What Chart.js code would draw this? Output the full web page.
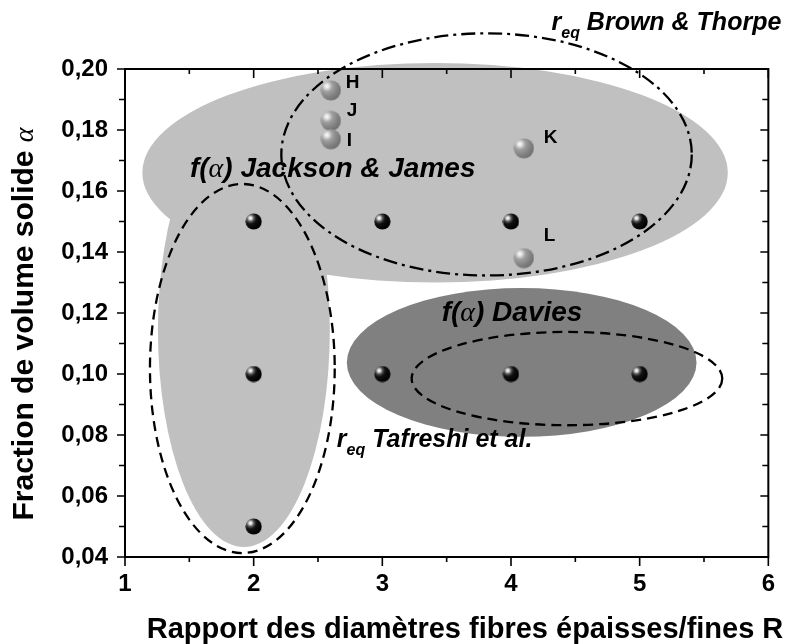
<!DOCTYPE html>
<html>
<head>
<meta charset="utf-8">
<script src="https://cdn.jsdelivr.net/npm/chart.js@4.4.1/dist/chart.umd.min.js"></script>
<style>
html, body { margin: 0; padding: 0; background: #fff; }
canvas { display: block; }
</style>
</head>
<body>
<canvas id="chart" width="788" height="644"></canvas>
<script>
// simulated cases (black balls)
var simR = [2, 3, 4, 5, 2, 3, 4, 5, 2];
var simAlpha = [0.15, 0.15, 0.15, 0.15, 0.10, 0.10, 0.10, 0.10, 0.05];

// experimental media (grey balls)
var expNames = ['H', 'J', 'I', 'K', 'L'];
var expR = [2.6, 2.6, 2.6, 4.1, 4.1];
var expAlpha = [0.193, 0.183, 0.177, 0.174, 0.138];

// validity zones, filled: Jackson & James, Jackson & James (low part), Davies
var zoneR = [3.41, 1.924, 4.083];
var zoneAlpha = [0.166, 0.1144, 0.1038];
var zoneHalfR = [2.275, 0.668, 1.359];
var zoneHalfAlpha = [0.036, 0.0711, 0.0244];

// validity zones, outlined: Brown & Thorpe, Tafreshi (two parts)
var ringR = [3.81, 1.912, 4.435];
var ringAlpha = [0.172, 0.1018, 0.0985];
var ringHalfR = [1.595, 0.718, 1.207];
var ringHalfAlpha = [0.0397, 0.0605, 0.0153];

var xTicks = [1, 2, 3, 4, 5, 6];
var yTicks = [0.04, 0.06, 0.08, 0.10, 0.12, 0.14, 0.16, 0.18, 0.20];

// styles
var zoneColours = ['#c0c0c0', '#c0c0c0', '#808080'];
var ringDash = [[14, 5, 3, 5], [10, 6], [10, 6]];
var expLabelOffset = [[15, -2], [16, -5], [16, 7], [20, -5], [20, -17]];

var SANS = '"Liberation Sans", Arial, sans-serif';
var SERIF = '"Liberation Serif", "Times New Roman", serif';
var bi = 'italic bold 28px ' + SANS;
var alphaFont = 'italic 28px ' + SERIF;
var bi2 = 'italic bold 25px ' + SANS;
var sub = 'italic bold 16px ' + SANS;

var notes = [
    {x: 1.505, y: 0.1646, runs: [['f(', bi], ['α', alphaFont], [') Jackson & James', bi]]},
    {x: 3.461, y: 0.1174, runs: [['f(', bi], ['α', alphaFont], [') Davies', bi]]},
    {x: 2.646, y: 0.0761, runs: [['r', bi2], ['eq', sub, 8], [' Tafreshi et al.', bi2]]},
    {x: 4.315, y: 0.2128, runs: [['r', bi2], ['eq', sub, 8], [' Brown & Thorpe', bi2]]}
];

function ball(size, stops) {
    var c = document.createElement('canvas');
    c.width = size; c.height = size;
    var g = c.getContext('2d');
    var r = size / 2;
    var hx = r * 0.62, hy = r * 0.6;
    var grad = g.createRadialGradient(hx, hy, 0, hx, hy, r * 1.4);
    stops.forEach(function (s) { grad.addColorStop(s[0], s[1]); });
    g.fillStyle = grad;
    g.beginPath();
    g.arc(r, r, r - 0.4, 0, Math.PI * 2);
    g.fill();
    return c;
}

var blackBall = ball(17, [[0, '#ffffff'], [0.12, '#dcdcdc'], [0.3, '#555'], [0.5, '#111'], [1, '#000']]);
var greyBall = ball(21, [[0, '#ffffff'], [0.14, '#e4e4e4'], [0.38, '#a0a0a0'], [0.7, '#858585'], [1, '#727272']]);

function drawRuns(ctx, x, y, runs) {
    var cx = x;
    runs.forEach(function (r) {
        ctx.font = r[1];
        ctx.fillText(r[0], cx, y + (r[2] || 0));
        cx += ctx.measureText(r[0]).width;
    });
    return cx - x;
}

var zones = {
    id: 'zones',
    beforeDatasetsDraw: function (chart) {
        var ctx = chart.ctx, xs = chart.scales.x, ys = chart.scales.y;
        ctx.save();
        zoneR.forEach(function (cr, i) {
            var px = xs.getPixelForValue(cr), py = ys.getPixelForValue(zoneAlpha[i]);
            var rx = xs.getPixelForValue(cr + zoneHalfR[i]) - px;
            var ry = py - ys.getPixelForValue(zoneAlpha[i] + zoneHalfAlpha[i]);
            ctx.fillStyle = zoneColours[i];
            ctx.beginPath();
            ctx.ellipse(px, py, rx, ry, 0, 0, Math.PI * 2);
            ctx.fill();
        });
        ctx.strokeStyle = '#000';
        ctx.lineWidth = 2.3;
        ringR.forEach(function (cr, i) {
            var px = xs.getPixelForValue(cr), py = ys.getPixelForValue(ringAlpha[i]);
            var rx = xs.getPixelForValue(cr + ringHalfR[i]) - px;
            var ry = py - ys.getPixelForValue(ringAlpha[i] + ringHalfAlpha[i]);
            ctx.setLineDash(ringDash[i]);
            ctx.beginPath();
            ctx.ellipse(px, py, rx, ry, 0, 0, Math.PI * 2);
            ctx.stroke();
        });
        ctx.restore();
    },
    afterDatasetsDraw: function (chart) {
        var ctx = chart.ctx, xs = chart.scales.x, ys = chart.scales.y;
        ctx.save();
        ctx.fillStyle = '#000';
        ctx.textAlign = 'left';
        ctx.textBaseline = 'alphabetic';
        ctx.font = 'bold 19px ' + SANS;
        expNames.forEach(function (n, i) {
            var px = xs.getPixelForValue(expR[i]), py = ys.getPixelForValue(expAlpha[i]);
            ctx.fillText(n, px + expLabelOffset[i][0], py + expLabelOffset[i][1]);
        });
        notes.forEach(function (n) {
            drawRuns(ctx, xs.getPixelForValue(n.x), ys.getPixelForValue(n.y), n.runs);
        });
        ctx.restore();
    },
    afterDraw: function (chart) {
        var ctx = chart.ctx, xs = chart.scales.x, ys = chart.scales.y;
        var a = chart.chartArea;
        ctx.save();
        ctx.strokeStyle = '#000';
        ctx.lineWidth = 2;
        ctx.beginPath();
        ctx.moveTo(a.left - 1, a.top);
        ctx.lineTo(a.right, a.top);
        ctx.lineTo(a.right, a.bottom + 1);
        ctx.stroke();
        ctx.lineWidth = 1.6;
        ctx.beginPath();
        for (var k = 0; k <= 10; k++) {
            var v = 1 + k * 0.5;
            var px = xs.getPixelForValue(v);
            var len = k % 2 === 0 ? 9 : 5;
            ctx.moveTo(px, a.bottom); ctx.lineTo(px, a.bottom + len);
            ctx.moveTo(px, a.top); ctx.lineTo(px, a.top + len);
        }
        for (var j = 4; j <= 20; j++) {
            var py = ys.getPixelForValue(j / 100);
            var l2 = j % 2 === 0 ? 8 : 6;
            ctx.moveTo(a.left, py); ctx.lineTo(a.left - l2, py);
            ctx.moveTo(a.right, py); ctx.lineTo(a.right - l2, py);
        }
        ctx.stroke();

        // axis titles
        ctx.fillStyle = '#000';
        ctx.textBaseline = 'alphabetic';
        ctx.textAlign = 'center';
        ctx.font = 'bold 29px ' + SANS;
        ctx.fillText('Rapport des diamètres fibres épaisses/fines R', 465, 638);

        ctx.translate(33, 324);
        ctx.rotate(-Math.PI / 2);
        ctx.textAlign = 'left';
        var runs = [['Fraction de volume solide ', 'bold 30px ' + SANS], ['α', 'italic 28px ' + SERIF]];
        var w = 0;
        runs.forEach(function (r) { ctx.font = r[1]; w += ctx.measureText(r[0]).width; });
        drawRuns(ctx, -w / 2, 0, runs);
        ctx.restore();
    }
};

Chart.defaults.font.family = SANS;
Chart.defaults.color = '#000';

var chart = new Chart(document.getElementById('chart'), {
    type: 'scatter',
    data: {
        datasets: [
            {
                label: 'Simulations',
                data: simR.map(function (r, i) { return {x: r, y: simAlpha[i]}; }),
                pointStyle: blackBall,
                pointRadius: 8,
                pointHoverRadius: 8
            },
            {
                label: 'Milieux expérimentaux',
                data: expR.map(function (r, i) { return {x: r, y: expAlpha[i]}; }),
                pointStyle: greyBall,
                pointRadius: 10,
                pointHoverRadius: 10
            }
        ]
    },
    options: {
        responsive: false,
        animation: false,
        devicePixelRatio: 1,
        layout: {padding: {left: 0, right: 19, top: 69, bottom: 0}},
        plugins: {legend: {display: false}, tooltip: {enabled: false}},
        scales: {
            x: {
                type: 'linear',
                min: 1, max: 6,
                afterBuildTicks: function (s) { s.ticks = xTicks.map(function (v) { return {value: v}; }); },
                afterFit: function (s) { s.height = 87; },
                ticks: {
                    autoSkip: false,
                    maxRotation: 0,
                    padding: 13,
                    font: {size: 24, weight: 'bold'},
                    callback: function (v) { return String(v); }
                },
                grid: {display: true, drawOnChartArea: false, drawTicks: false},
                border: {display: true, color: '#000', width: 2}
            },
            y: {
                type: 'linear',
                min: 0.04, max: 0.20,
                afterBuildTicks: function (s) { s.ticks = yTicks.map(function (v) { return {value: v}; }); },
                afterFit: function (s) { s.width = 125; },
                ticks: {
                    autoSkip: false,
                    padding: 17,
                    font: {size: 24, weight: 'bold'},
                    callback: function (v) { return v.toFixed(2).replace('.', ','); }
                },
                grid: {display: true, drawOnChartArea: false, drawTicks: false},
                border: {display: true, color: '#000', width: 2}
            }
        }
    },
    plugins: [zones]
});
</script>
</body>
</html>
